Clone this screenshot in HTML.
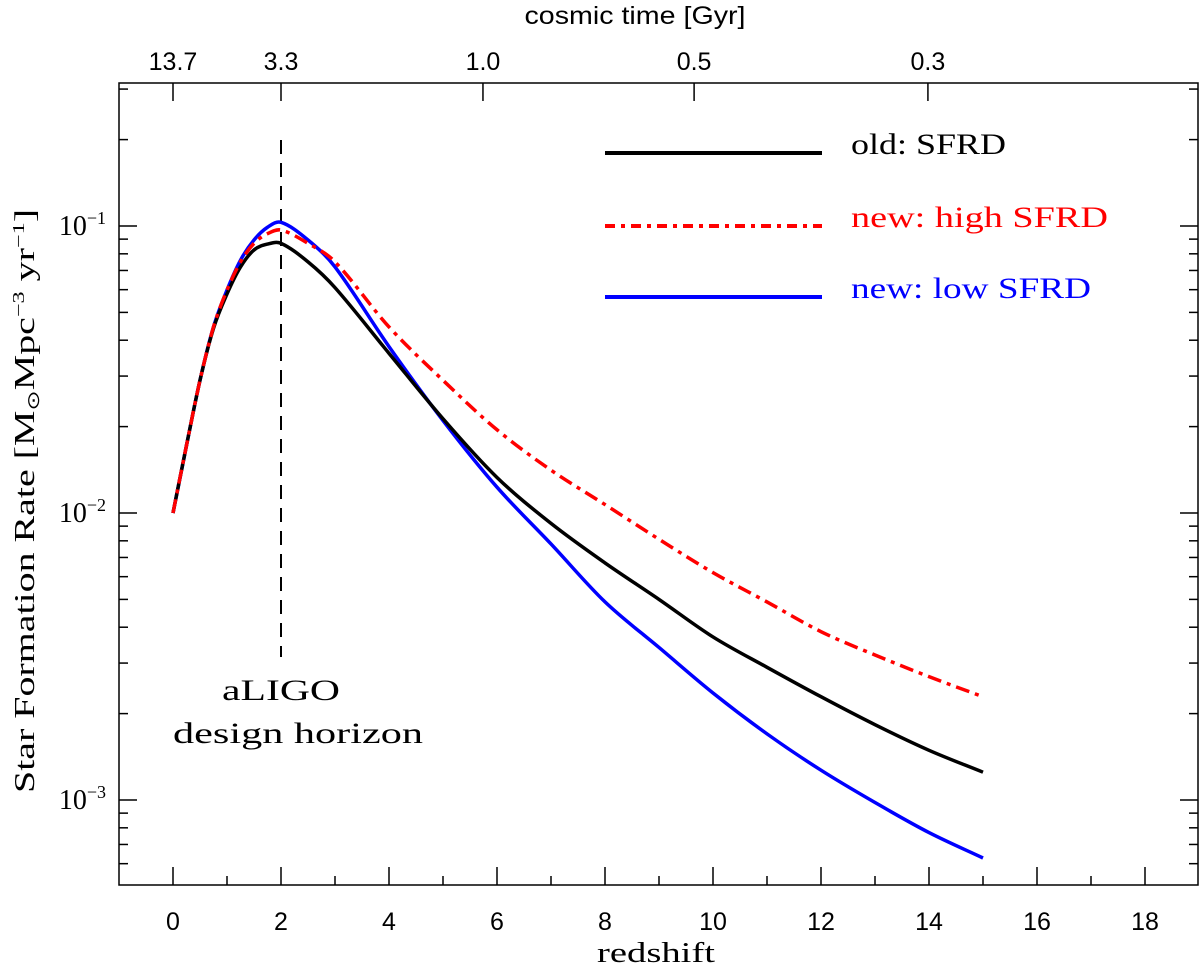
<!DOCTYPE html>
<html><head><meta charset="utf-8"><style>
body{margin:0;background:#fff}
svg{display:block}
.tk{font-family:"Liberation Sans",sans-serif;font-size:25px;fill:#000}
.sr{font-family:"Liberation Serif",serif;fill:#000}
</style></head><body>
<svg id="chart" width="1200" height="965" viewBox="0 0 1200 965" xmlns="http://www.w3.org/2000/svg">
<g id="axes"></g>
<g id="series"></g>
<g id="legend"></g>
</svg>
<script>
const redshift=[0,0.25,0.5,0.75,1,1.25,1.5,1.75,2,2.5,3,4,5,6,7,8,9,10,11,12,13,14,15];
const oldSFRD=[0.01,0.0172,0.029,0.044,0.058,0.072,0.0825,0.0865,0.087,0.075,0.061,0.036,0.0213,0.0133,0.0092,0.0067,0.0050,0.0037,0.0029,0.00229,0.00183,0.00149,0.00125];
const highSFRD=[0.01,0.0172,0.029,0.0445,0.0598,0.075,0.087,0.094,0.0968,0.087,0.075,0.0445,0.029,0.0195,0.0141,0.0107,0.0081,0.0062,0.0049,0.00386,0.0032,0.00269,0.00229];
const lowSFRD=[0.01,0.0172,0.029,0.0445,0.0598,0.076,0.0894,0.099,0.103,0.0894,0.072,0.038,0.021,0.0123,0.0078,0.0049,0.0034,0.00236,0.0017,0.00127,0.00098,0.00077,0.000628];
const xTicks=[0,2,4,6,8,10,12,14,16,18];
const timeLabels=["13.7","3.3","1.0","0.5","0.3"];
const timeZ=[0,2,5.74,9.65,13.98];
const yDecades=[-3,-2,-1];

const NS="http://www.w3.org/2000/svg";
const L=119,R=1198,T=83,B=885;
function X(z){return 173+54*z;}
function Y(v){return 226-287*(Math.log10(v)+1);}
function mk(tag,attrs,parent,text){const e=document.createElementNS(NS,tag);for(const k in attrs)e.setAttribute(k,attrs[k]);if(text!==undefined)e.textContent=text;parent.appendChild(e);return e;}
const ax=document.getElementById('axes');
const frame=mk('rect',{x:L,y:T,width:R-L,height:B-T,fill:'none',stroke:'#000','stroke-width':1.5},ax);


for(let z=-1;z<=19;z++){
  const len=(z%2===0)?18:9;const x=X(z);
  if(x<=L+1||x>=R-1)continue;
  const t=mk('line',{x1:x,x2:x,y1:B,y2:B-len,stroke:'#000','stroke-width':1.5},ax);
  
  
}
xTicks.forEach(z=>{
  const t=mk('text',{x:X(z),y:930,'text-anchor':'middle',class:'tk'},ax,String(z));
  
  
});
const xt=mk('text',{x:656,y:962,'text-anchor':'middle',class:'sr','font-size':29,textLength:118,lengthAdjust:'spacingAndGlyphs'},ax,'redshift');


timeZ.forEach((z,i)=>{
  const t=mk('line',{x1:X(z),x2:X(z),y1:T,y2:T+18,stroke:'#000','stroke-width':1.5},ax);
  
  
  const l=mk('text',{x:X(z),y:70,'text-anchor':'middle',class:'tk'},ax,timeLabels[i]);
  
  
});
const tt=mk('text',{x:635,y:24,'text-anchor':'middle',class:'tk','font-size':26,textLength:221,lengthAdjust:'spacingAndGlyphs'},ax,'cosmic time [Gyr]');


for(let d=-4;d<=-1;d++){for(let m=1;m<10;m++){
  const v=m*Math.pow(10,d);const y=Y(v);
  if(y<T+1||y>B-1)continue;const len=m===1?18:9;
  [[L,L+len],[R,R-len]].forEach(p=>{
    const t=mk('line',{x1:p[0],x2:p[1],y1:y,y2:y,stroke:'#000','stroke-width':1.5},ax);
    
    
  });
}}
yDecades.forEach(d=>{
  const y=Y(Math.pow(10,d));
  const t=mk('text',{x:106,y:y+9,'text-anchor':'end',class:'sr','font-size':28},ax);
  
  
  mk('tspan',{},t,'10');
  mk('tspan',{dy:-11,'font-size':18},t,'−'+(-d));
});
const yl=mk('text',{transform:'translate(34,501) rotate(-90)','text-anchor':'middle',class:'sr','font-size':28,textLength:584,lengthAdjust:'spacingAndGlyphs'},ax);


mk('tspan',{},yl,'Star Formation Rate [M');
mk('tspan',{'font-size':17,dy:5},yl,'⊙');
mk('tspan',{dy:-5},yl,'Mpc');
mk('tspan',{'font-size':17,dy:-10},yl,'−3');
mk('tspan',{dy:10},yl,' yr');
mk('tspan',{'font-size':17,dy:-10},yl,'−1');
mk('tspan',{dy:10},yl,']');
const hl=mk('line',{x1:X(2),x2:X(2),y1:140,y2:657,stroke:'#000','stroke-width':2,'stroke-dasharray':'14,9'},ax);


const h1=mk('text',{x:X(2),y:700,'text-anchor':'middle',class:'sr','font-size':30,textLength:118,lengthAdjust:'spacingAndGlyphs'},ax,'aLIGO');


const h2=mk('text',{x:298,y:743,'text-anchor':'middle',class:'sr','font-size':30,textLength:250,lengthAdjust:'spacingAndGlyphs'},ax,'design horizon');


function path(vals){
  const pts=redshift.map((z,i)=>[X(z),Y(vals[i])]);
  let d='M'+pts[0][0]+','+pts[0][1];
  for(let i=0;i<pts.length-1;i++){
    const p0=pts[Math.max(0,i-1)],p1=pts[i],p2=pts[i+1],p3=pts[Math.min(pts.length-1,i+2)];
    const h=p2[0]-p1[0];
    const s1=(p2[1]-p0[1])/(p2[0]-p0[0]||1),s2=(p3[1]-p1[1])/(p3[0]-p1[0]||1);
    const c1=[p1[0]+h/3,p1[1]+s1*h/3],c2=[p2[0]-h/3,p2[1]-s2*h/3];
    d+=' C'+c1+' '+c2+' '+p2;
  }
  return d;
}
const sg=document.getElementById('series');
const bl=mk('path',{d:path(lowSFRD),fill:'none',stroke:'#0000ff','stroke-width':3.5},sg);


const bk=mk('path',{d:path(oldSFRD),fill:'none',stroke:'#000','stroke-width':3.5},sg);


const rd=mk('path',{d:path(highSFRD),fill:'none',stroke:'#ff0000','stroke-width':3.5,'stroke-dasharray':'14,6,4,6'},sg);


const lg=document.getElementById('legend');
[['old: SFRD','#000',153,null,'legend-old',155],['new: high SFRD','#ff0000',226,'10,6,4,6','legend-high',257],['new: low SFRD','#0000ff',297,null,'legend-low',240]].forEach(e=>{
  const a={x1:605,x2:822,y1:e[2],y2:e[2],stroke:e[1],'stroke-width':4};if(e[3])a['stroke-dasharray']=e[3];
  const ln=mk('line',a,lg);
  
  
  const tx=mk('text',{x:851,y:e[2]+1,class:'sr','font-size':30,style:'fill:'+e[1],textLength:e[5],lengthAdjust:'spacingAndGlyphs'},lg,e[0]);
  
  
});
</script>
</body></html>
